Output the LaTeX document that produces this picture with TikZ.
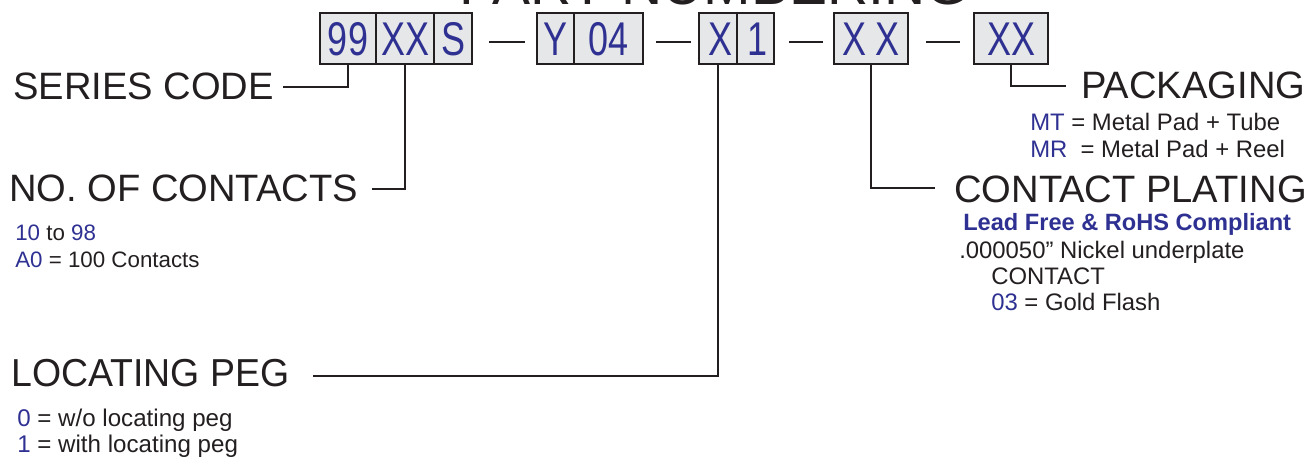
\documentclass[tikz,border=0pt]{standalone}
\usepackage{fontspec}
\setmainfont{Liberation Sans}
\usepackage{graphicx}
\definecolor{pnblue}{RGB}{46,49,146}
\definecolor{pnink}{RGB}{35,31,32}
\definecolor{pnfill}{RGB}{230,231,232}
\begin{document}
\begin{tikzpicture}[x=0.75pt,y=-0.75pt,
  cell/.style={draw=pnink, fill=pnfill, line width=1.4pt, inner sep=0pt, outer sep=0pt, minimum height=51*0.75pt},
  code/.style={anchor=base, inner sep=0pt, text=pnblue, font=\fontsize{35.5}{35.5}\selectfont},
  lab/.style={anchor=base west, inner sep=0pt, text=pnink, font=\fontsize{28.6}{28.6}\selectfont},
  sm/.style={anchor=base west, inner sep=0pt, text=pnink, font=\fontsize{17.9}{17.9}\selectfont},
  smleft/.style={anchor=base west, inner sep=0pt, text=pnink, font=\fontsize{16.75}{16.75}\selectfont},
  smbottom/.style={anchor=base west, inner sep=0pt, text=pnink, font=\fontsize{18.1}{18.1}\selectfont},
  conn/.style={draw=pnink, line width=1.1pt},
  dashline/.style={draw=pnink, line width=1.5pt}]
\useasboundingbox (0,0) rectangle (1308,457);

% title (cut off at top, as in the original)
\node[anchor=base, inner sep=0pt, text=pnink, font=\fontsize{42.75}{42.75}\selectfont] (title) at (714.5,4.5) {PART NUMBERING};

% free ends of connectors
\coordinate (scEnd) at (283,87);
\coordinate (ncEnd) at (372,189);
\coordinate (lpEnd) at (313,376);
\coordinate (cpEnd) at (935,188);
\coordinate (pkEnd) at (1066,86);

% boxes
\node[cell, minimum width=56*0.75pt] (c99) at (348,38.5) {};
\node[cell, minimum width=58*0.75pt] (cXX) at (405,38.5) {};
\node[cell, minimum width=38*0.75pt] (cS) at (453,38.5) {};
\node[cell, minimum width=37*0.75pt] (cY) at (555.5,38.5) {};
\node[cell, minimum width=69*0.75pt] (c04) at (608.5,38.5) {};
\node[cell, minimum width=38*0.75pt] (cX) at (718,38.5) {};
\node[cell, minimum width=37*0.75pt] (c1) at (755.5,38.5) {};
\node[cell, minimum width=74*0.75pt] (cXsX) at (871,38.5) {};
\node[cell, minimum width=74*0.75pt] (cPk) at (1011,38.5) {};

\draw[conn] (c99.south) |- (scEnd);
\draw[conn] (cXX.south) |- (ncEnd);
\draw[conn] (cX.south) |- (lpEnd);
\draw[conn] (cXsX.south) |- (cpEnd);
\draw[conn] (cPk.south) |- (pkEnd);

% box texts
\node[code] (t99) at (348,55.5) {\scalebox{0.76}[1]{99}};
\node[code] (tXX) at (405,55.5) {\scalebox{0.76}[1]{XX}};
\node[code] (tS) at (453,55.5) {\scalebox{0.76}[1]{S}};
\node[code] (tY) at (555.5,55.5) {\scalebox{0.76}[1]{Y}};
\node[code] (t04) at (608.5,55.5) {\scalebox{0.76}[1]{04}};
\node[code] (tX) at (720,55.5) {\scalebox{0.76}[1]{X}};
\node[code] (t1) at (757,55.5) {\scalebox{0.76}[1]{1}};
\node[code] (tXsX) at (871,55.5) {\scalebox{0.76}[1]{X\hspace{9pt}X}};
\node[code] (tPk) at (1011,55.5) {\scalebox{0.76}[1]{XX}};

% dashes between the groups
\coordinate (d1a) at (489,42); \coordinate (d1b) at (525,42);
\coordinate (d2a) at (656,42); \coordinate (d2b) at (691,42);
\coordinate (d3a) at (789,42); \coordinate (d3b) at (823,42);
\coordinate (d4a) at (926,42); \coordinate (d4b) at (960,42);
\draw[dashline] (d1a) -- (d1b);
\draw[dashline] (d2a) -- (d2b);
\draw[dashline] (d3a) -- (d3b);
\draw[dashline] (d4a) -- (d4b);

% labels
\node[lab] (series) at (13,99.5) {SERIES CODE};
\node[lab] (contacts) at (9,201.5) {NO. OF CONTACTS};
\node[lab, font=\fontsize{29.25}{29.25}\selectfont] (peg) at (11,386.7) {\scalebox{0.96}[1]{LOCATING PEG}};
\node[lab] (pack) at (1081,98) {PACKAGING};
\node[lab] (plating) at (954,202.7) {CONTACT PLATING};

% descriptions
\node[smleft] (n1) at (15,240.5) {\textcolor{pnblue}{10} to \textcolor{pnblue}{98}};
\node[smleft] (n2) at (15,267) {\textcolor{pnblue}{A0} = 100 Contacts};

\node[sm] (p1) at (1030,130) {\textcolor{pnblue}{MT} = Metal Pad + Tube};
\node[sm] (p2) at (1030,157.3) {\textcolor{pnblue}{MR}\ \ = Metal Pad + Reel};

\node[sm, text=pnblue, font=\fontsize{17.7}{17.7}\selectfont\bfseries] (lf) at (963,230) {Lead Free \& RoHS Compliant};
\node[sm] (ni) at (959,258.3) {.000050'' Nickel underplate};
\node[sm] (ct) at (991,284) {CONTACT};
\node[sm] (gf) at (991,310.7) {\textcolor{pnblue}{03} = Gold Flash};

\node[smbottom] (l0) at (17,426.7) {\textcolor{pnblue}{0} = w/o locating peg};
\node[smbottom] (l1) at (17,452.3) {\textcolor{pnblue}{1} = with locating peg};
\end{tikzpicture}
\end{document}
